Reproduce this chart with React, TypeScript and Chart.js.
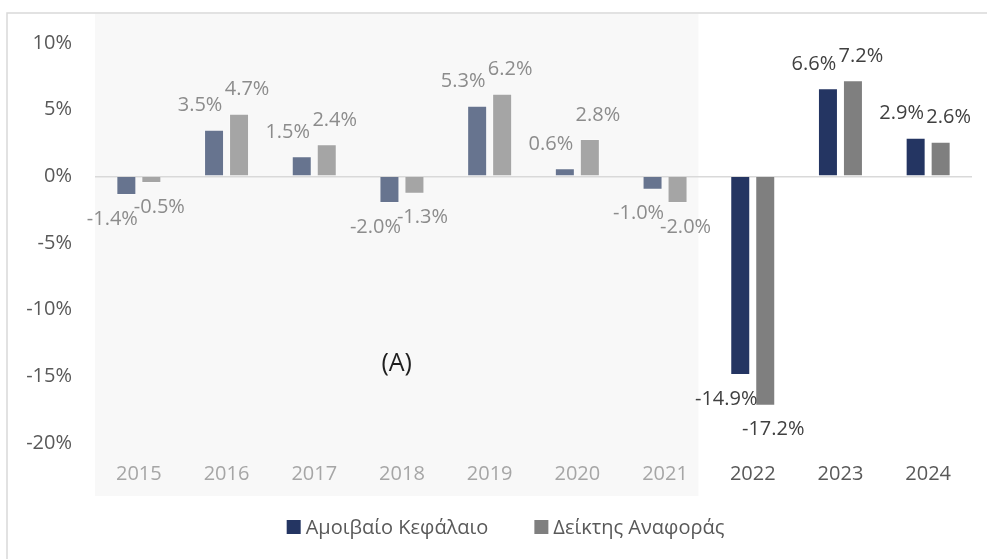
import React, { useEffect, useRef } from "react";
import { Chart, registerables } from "chart.js";

Chart.register(...registerables);

const categories = ["2015", "2016", "2017", "2018", "2019", "2020", "2021", "2022", "2023", "2024"];
const fundValues = [-1.4, 3.5, 1.5, -2.0, 5.3, 0.6, -1.0, -14.9, 6.6, 2.9];
const indexValues = [-0.5, 4.7, 2.4, -1.3, 6.2, 2.8, -2.0, -17.2, 7.2, 2.6];
const seriesNames = ["Αμοιβαίο Κεφάλαιο", "Δείκτης Αναφοράς"];
const periodACount = 7; // 2015-2021 shaded as period (A)
const periodALabel = "(A)";
const yTicks = [-20, -15, -10, -5, 0, 5, 10];

const FONT = "'Open Sans', 'Noto Sans', sans-serif";
const fundEarly = "#67748F";
const fundLate = "#243562";
const idxEarly = "#A5A5A5";
const idxLate = "#7F7F7F";

const fmt = (v: number) => v.toFixed(1) + "%";

const shadeBounds = (chart: any) => {
  const x = chart.scales.x;
  const step = x.getPixelForValue(1) - x.getPixelForValue(0);
  const x0 = chart.chartArea.left;
  const x1 =
    (x.getPixelForValue(periodACount - 1) + x.getPixelForValue(periodACount)) / 2 - 0.12 * step;
  return [x0, x1];
};

const decorPlugin = {
  id: "decor",
  beforeDraw(chart: any) {
    const { ctx, chartArea } = chart;
    ctx.save();
    ctx.fillStyle = "#ffffff";
    ctx.fillRect(0, 0, chart.width, chart.height);
    // frame
    ctx.strokeStyle = "#D9D9D9";
    ctx.lineWidth = 1.5;
    ctx.beginPath();
    ctx.moveTo(7, chart.height);
    ctx.lineTo(7, 13);
    ctx.lineTo(chart.width, 13);
    ctx.stroke();
    // shaded period
    const [x0, x1] = shadeBounds(chart);
    ctx.fillStyle = "#F8F8F8";
    ctx.fillRect(x0, chartArea.top - 29, x1 - x0, chartArea.bottom - chartArea.top + 82);
    ctx.restore();
  },
  afterDatasetsDraw(chart: any) {
    const { ctx, scales } = chart;
    ctx.save();
    ctx.font = `20px ${FONT}`;
    ctx.textAlign = "center";
    ctx.textBaseline = "middle";
    chart.data.datasets.forEach((ds: any, di: number) => {
      const meta = chart.getDatasetMeta(di);
      meta.data.forEach((bar: any, i: number) => {
        const v = ds.data[i];
        const dx = di === 0 ? -14 : 8;
        const dy = v >= 0 ? -24 : 24;
        ctx.fillStyle = i < periodACount ? "#8C8C8C" : "#404040";
        ctx.fillText(fmt(v), bar.x + dx, bar.y + dy);
      });
    });
    // period label
    const [x0, x1] = shadeBounds(chart);
    ctx.font = `25px ${FONT}`;
    ctx.fillStyle = "#1F1F1F";
    ctx.fillText(periodALabel, (x0 + x1) / 2, scales.y.getPixelForValue(-14.1));
    // legend
    ctx.font = `20px ${FONT}`;
    const colors = [fundLate, idxLate];
    const widths = seriesNames.map((n) => ctx.measureText(n).width);
    const box = 14;
    const gapText = 5;
    const gapItem = 46;
    const total = widths.reduce((a, w) => a + box + gapText + w, 0) + gapItem;
    let lx = (chart.width + 24) / 2 - total / 2;
    const ly = 527;
    ctx.textAlign = "left";
    seriesNames.forEach((n, k) => {
      ctx.fillStyle = colors[k];
      ctx.fillRect(lx, ly - box / 2, box, box);
      lx += box + gapText;
      ctx.fillStyle = "#595959";
      ctx.fillText(n, lx, ly + 1);
      lx += widths[k] + gapItem;
    });
    ctx.restore();
  },
};

export default function App() {
  const ref = useRef<HTMLCanvasElement | null>(null);
  useEffect(() => {
    if (!ref.current) return;
    const chart = new Chart(ref.current, {
      type: "bar",
      data: {
        labels: categories,
        datasets: [
          {
            label: seriesNames[0],
            data: fundValues,
            backgroundColor: categories.map((_, i) => (i < periodACount ? fundEarly : fundLate)),
            borderColor: "rgba(255,255,255,0.35)",
            borderWidth: 1,
            categoryPercentage: 0.57,
            barPercentage: 0.8,
          },
          {
            label: seriesNames[1],
            data: indexValues,
            backgroundColor: categories.map((_, i) => (i < periodACount ? idxEarly : idxLate)),
            borderColor: "rgba(255,255,255,0.35)",
            borderWidth: 1,
            categoryPercentage: 0.57,
            barPercentage: 0.8,
          },
        ],
      },
      options: {
        animation: false,
        responsive: false,
        devicePixelRatio: 1,
        layout: { padding: { top: 43, right: 15, left: 0, bottom: 54 } },
        plugins: { legend: { display: false }, tooltip: { enabled: false } },
        scales: {
          x: {
            grid: { display: false, drawTicks: false },
            border: { display: false },
            ticks: {
              padding: 19,
              font: { family: FONT, size: 20 },
              color: (c: any) => (c.index < periodACount ? "#A6A6A6" : "#595959"),
            },
          },
          y: {
            min: yTicks[0],
            max: yTicks[yTicks.length - 1],
            afterFit: (s: any) => {
              s.width = 95;
            },
            afterBuildTicks: (s: any) => {
              s.ticks = yTicks.map((v) => ({ value: v }));
            },
            grid: {
              drawTicks: false,
              color: (c: any) => (c.tick && c.tick.value === 0 ? "#D9D9D9" : "rgba(0,0,0,0)"),
              lineWidth: 1.5,
            },
            border: { display: false },
            ticks: {
              padding: 23,
              font: { family: FONT, size: 20 },
              color: "#595959",
              callback: (v: any) => v + "%",
            },
          },
        },
      },
      plugins: [decorPlugin],
    });
    return () => chart.destroy();
  }, []);
  return (
    <div style={{ position: "absolute", left: 0, top: 0, width: 987, height: 559 }}>
      <canvas ref={ref} width={987} height={559} style={{ width: 987, height: 559, display: "block" }} />
    </div>
  );
}
